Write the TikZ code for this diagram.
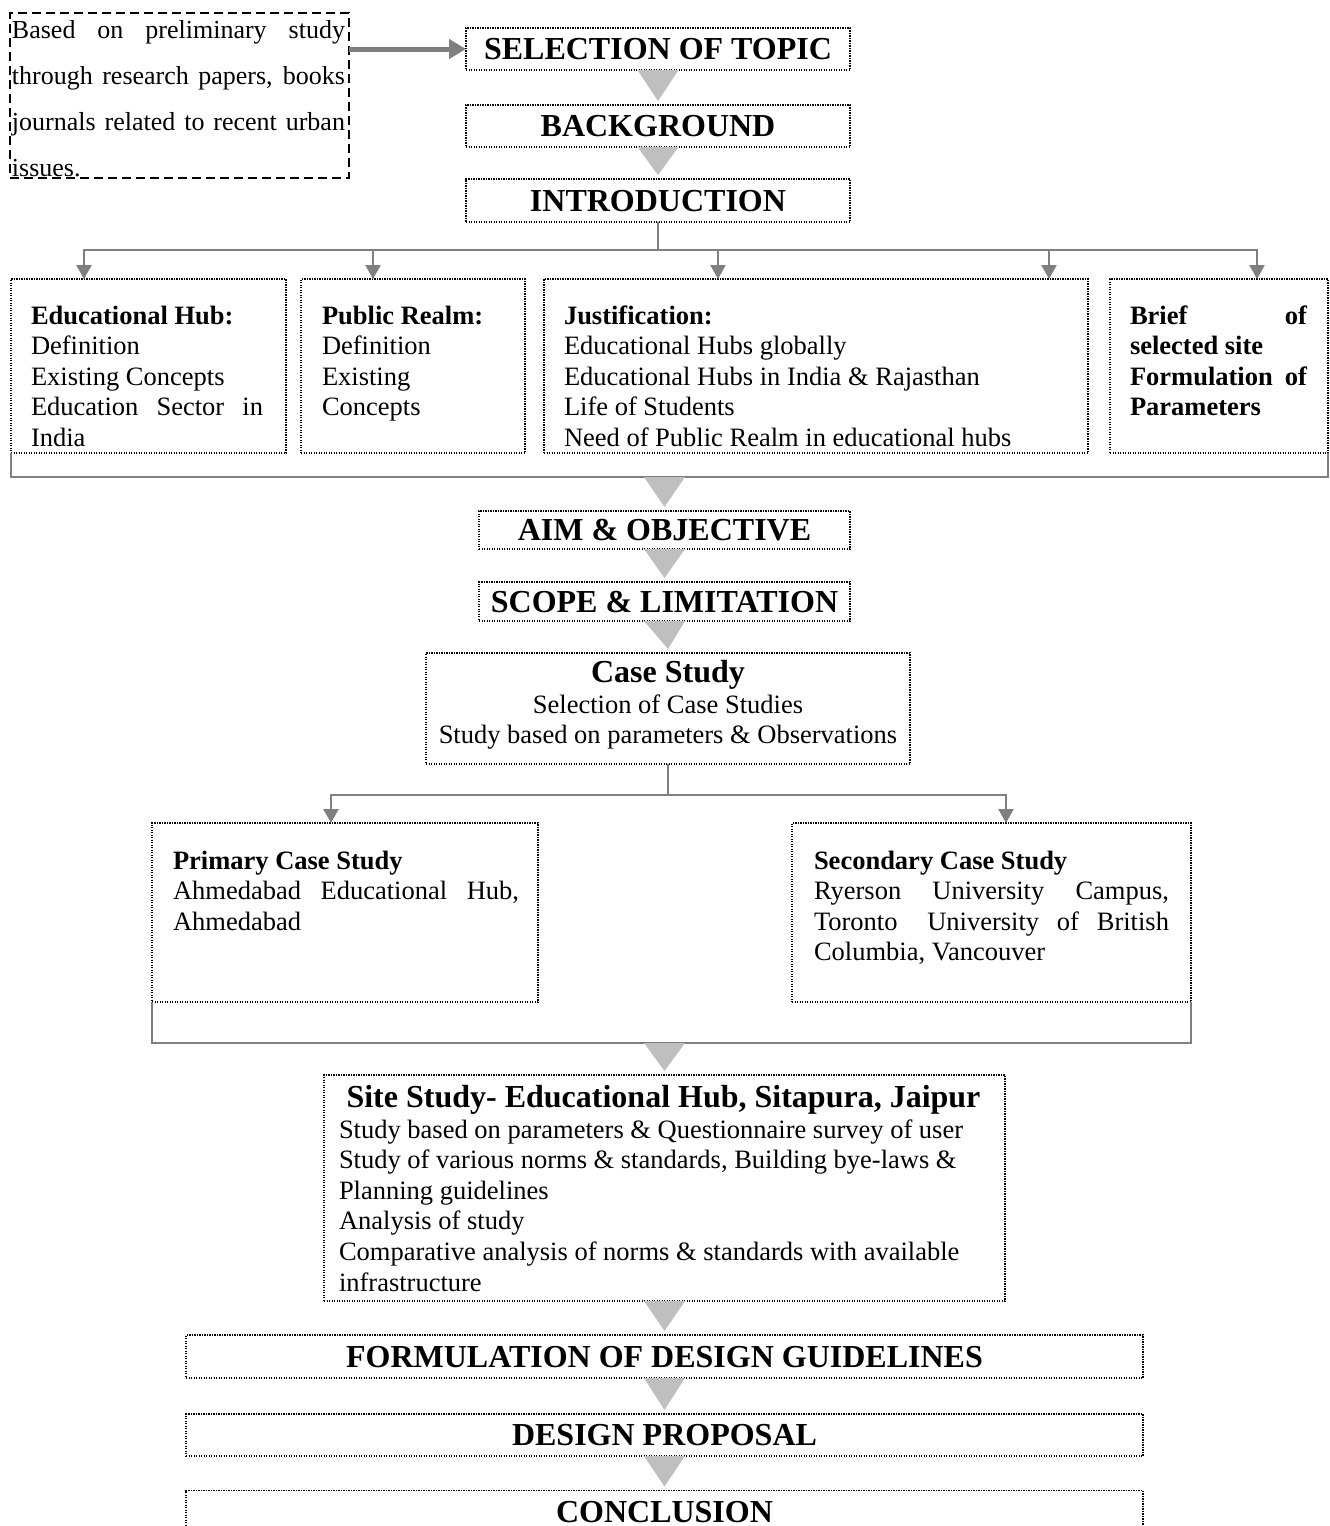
\documentclass[tikz,border=0pt]{standalone}
\usepackage{fontspec}
\setmainfont{Liberation Serif}
\usetikzlibrary{arrows.meta,calc}
\definecolor{lg}{HTML}{BFBFBF}
\definecolor{dg}{HTML}{7F7F7F}
\newcommand\jl[2]{\leavevmode\hbox to #1{\spaceskip=.25em plus 1fil\relax\xspaceskip=.25em plus 1fil\relax #2}}
\newcommand\gtri[2]{\fill[lg] ($(#1)+(-20.5,0)$) -- ($(#1)+(20.5,0)$) -- ($(#2)+(0,-4)$) -- cycle;}
\begin{document}
\begin{tikzpicture}[x=1pt,y=-1pt,
 box/.style={draw=black, line width=1.3pt, dash pattern=on 1.3pt off 1.2pt, inner sep=0pt, outer sep=0pt},
 hd/.style={box, font=\fontsize{32}{36}\selectfont\bfseries, text height=21pt, text depth=0pt},
 txt/.style={inner sep=0pt, outer sep=0pt, font=\fontsize{26.5}{30.6}\selectfont, align=flush left, anchor=base west,
   execute at begin node={\spaceskip=0pt\relax\xspaceskip=0pt\relax}},
 ttl/.style={inner sep=0pt, outer sep=0pt, font=\fontsize{32}{36}\selectfont\bfseries, anchor=base},
 conn/.style={draw=dg, line width=2.5pt},
 tip/.style={-{Triangle[length=14pt,width=15pt]}},
]
\useasboundingbox (0,0) rectangle (1330,1526);
\clip (0,0) rectangle (1330,1526);

% left note box
\node[box, dash pattern=on 9pt off 5pt, line width=1.8pt, minimum width=339pt, minimum height=165pt] (lbox) at (179.5,95.5) {};
\node[txt, text width=340pt, font=\fontsize{26}{46.3}\selectfont] (ltxt) at (12,38) {\jl{333pt}{Based on preliminary study}\\\jl{333pt}{through research papers, books}\\\jl{333pt}{journals related to recent urban}\\issues.};

% top headings
\node[hd, minimum width=384pt, minimum height=42pt] (sel) at (658,49) {SELECTION OF TOPIC};
\node[hd, minimum width=384pt, minimum height=42pt] (bg) at (658,126) {BACKGROUND};
\node[hd, minimum width=384pt, minimum height=43pt] (intro) at (658,200.5) {INTRODUCTION};

\draw[dg, line width=5pt, -{Triangle[length=17pt,width=19pt]}] (lbox.east |- sel.west) -- (sel.west);
\gtri{sel.south}{bg.north}
\gtri{bg.south}{intro.north}

% first row of boxes
\node[box, minimum width=275pt, minimum height=174pt] (b1) at (148.5,366) {};
\node[box, minimum width=224pt, minimum height=174pt] (b2) at (413,366) {};
\node[box, minimum width=544pt, minimum height=174pt] (b3) at (816,366) {};
\node[box, minimum width=218pt, minimum height=174pt] (b4) at (1219,366) {};

\node[txt, text width=240pt] (t1x) at (31,324) {\textbf{Educational Hub:}\\Definition\\Existing Concepts\\\jl{232pt}{Education Sector in}\\India};
\node[txt, text width=190pt] (t2x) at (322,324) {\textbf{Public Realm:}\\Definition\\Existing\\Concepts};
\node[txt, text width=510pt] (t3x) at (564,324) {\textbf{Justification:}\\Educational Hubs globally\\Educational Hubs in India \& Rajasthan\\Life of Students\\Need of Public Realm in educational hubs};
\node[txt, text width=180pt, font=\fontsize{26.5}{30.6}\selectfont\bfseries] (t4x) at (1130,324) {\jl{177pt}{Brief of}\\selected site\\\jl{177pt}{Formulation of}\\Parameters};

\coordinate (hb) at (661,250);
\draw[conn] (intro.south) -- (intro.south |- hb);
\path ($(b1.north west)+(73,0)$) coordinate (p1)
      ($(b2.north west)+(72,0)$) coordinate (p2)
      ($(b3.north west)+(174,0)$) coordinate (p3)
      ($(b3.north west)+(505,0)$) coordinate (p4)
      ($(b4.north west)+(147,0)$) coordinate (p5);
\draw[conn, line cap=rect] (p1 |- hb) -- (p5 |- hb);
\foreach \pp in {p1,p2,p3,p4,p5} \draw[conn,tip] (\pp |- hb) -- (\pp);

\draw[conn] (b1.south west) -- ++(0,24) coordinate (k1) -| (b4.south east);

% middle headings
\node[hd, minimum width=371pt, minimum height=38pt] (aim) at (664.5,530) {AIM \& OBJECTIVE};
\node[hd, minimum width=371pt, minimum height=39pt] (scope) at (664.5,601.5) {SCOPE \& LIMITATION};
\node[box, minimum width=484pt, minimum height=111pt] (case) at (668,708.5) {};
\node[ttl] (caseT) at (668,682) {Case Study};
\node[txt, anchor=base, align=flush center, text width=480pt] (caseB) at (668,713) {Selection of Case Studies\\Study based on parameters \& Observations};

\gtri{aim.north |- k1}{aim.north}
\gtri{aim.south}{scope.north}
\gtri{scope.south}{case.north}

% case studies
\node[box, minimum width=386pt, minimum height=179pt] (prim) at (345,912.5) {};
\node[box, minimum width=399pt, minimum height=179pt] (sec) at (991.5,912.5) {};
\node[txt, text width=360pt] (primT) at (173,869) {\textbf{Primary Case Study}\\\jl{346pt}{Ahmedabad Educational Hub,}\\Ahmedabad};
\node[txt, text width=360pt] (secT) at (814,869) {\textbf{Secondary Case Study}\\\jl{355pt}{Ryerson University Campus,}\\\jl{355pt}{Toronto\hspace{12pt} University of British}\\Columbia, Vancouver};

\draw[conn] (case.south) -- ++(0,31) coordinate (ch);
\path ($(prim.north west)+(179,0)$) coordinate (q1)
      ($(sec.north west)+(214,0)$) coordinate (q2);
\draw[conn, line cap=rect] (q1 |- ch) -- (q2 |- ch);
\draw[conn,tip] (q1 |- ch) -- (q1);
\draw[conn,tip] (q2 |- ch) -- (q2);

\draw[conn] (prim.south west) -- ++(0,41) coordinate (k2) -| (sec.south east);

% site study
\node[box, minimum width=681pt, minimum height=226pt] (site) at (664.5,1188) {};
\node[ttl] (siteT) at (663.5,1107) {Site Study- Educational Hub, Sitapura, Jaipur};
\node[txt, text width=660pt] (siteB) at (339,1138) {Study based on parameters \& Questionnaire survey of user\\Study of various norms \& standards, Building bye-laws \&\\Planning guidelines\\Analysis of study\\Comparative analysis of norms \& standards with available\\infrastructure};
\gtri{site.north |- k2}{site.north}

% bottom headings
\node[hd, minimum width=957pt, minimum height=43pt] (form) at (664.5,1356.5) {FORMULATION OF DESIGN GUIDELINES};
\node[hd, minimum width=957pt, minimum height=42pt] (dp) at (664.5,1435) {DESIGN PROPOSAL};
\node[hd, minimum width=957pt, minimum height=42pt] (conc) at (664.5,1511.5) {CONCLUSION};
\gtri{site.south}{form.north}
\gtri{form.south}{dp.north}
\gtri{dp.south}{conc.north}
\end{tikzpicture}
\end{document}
